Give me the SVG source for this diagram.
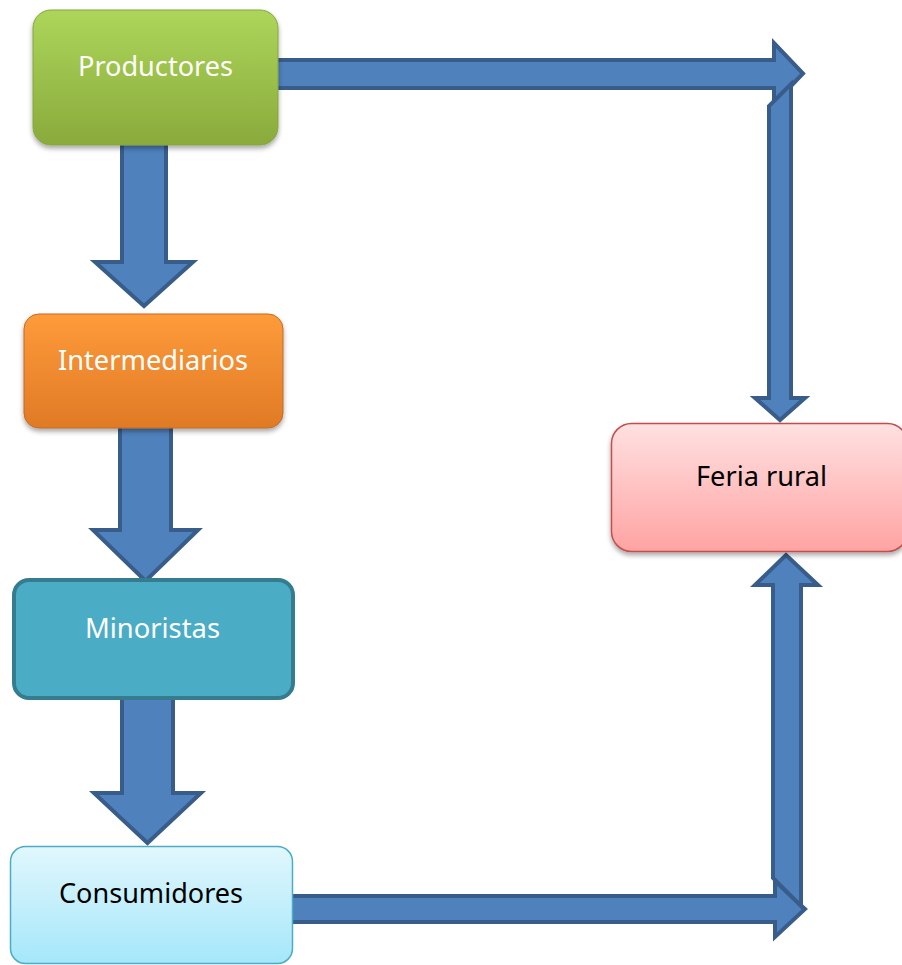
<svg xmlns="http://www.w3.org/2000/svg" width="902" height="965" viewBox="0 0 902 965">
<defs>
<linearGradient id="gGreen" x1="0" y1="0" x2="0" y2="1"><stop offset="0" stop-color="#acd65a"/><stop offset="1" stop-color="#8aaa3c"/></linearGradient>
<linearGradient id="gOrange" x1="0" y1="0" x2="0" y2="1"><stop offset="0" stop-color="#fe9b3a"/><stop offset="1" stop-color="#e07a26"/></linearGradient>
<linearGradient id="gCyan" x1="0" y1="0" x2="0" y2="1"><stop offset="0" stop-color="#e1f7fd"/><stop offset="1" stop-color="#a5e7fa"/></linearGradient>
<linearGradient id="gPink" x1="0" y1="0" x2="0" y2="1"><stop offset="0" stop-color="#ffe1e1"/><stop offset="1" stop-color="#ffa3a3"/></linearGradient>
<filter id="sh" x="-10%" y="-10%" width="125%" height="130%"><feDropShadow dx="0" dy="3" stdDeviation="2.5" flood-color="#000" flood-opacity="0.35"/></filter>
</defs>
<style>
.arr{fill:#4f81bd;stroke:#385d8a;stroke-width:4;stroke-linejoin:miter}
.lbl{font-family:"Noto Sans","Open Sans",sans-serif;font-size:27px;text-anchor:middle}
.w{fill:#ffffff}
.k{fill:#000000}
</style>
<g id="connectors">
<path class="arr" d="M122,140 L122,262 L95,262 L144,306 L193,262 L166,262 L166,140 Z"/>
<path class="arr" d="M120,420 L120,530 L93,530 L145.5,581 L198,530 L171,530 L171,420 Z"/>
<path class="arr" d="M122,695 L122,793 L94,793 L147.5,843 L201,793 L173,793 L173,695 Z"/>
<path class="arr" d="M275,60 L774,60 L774,43 L803,73.5 L774,104 L774,88 L275,88 Z"/>
<path class="arr" d="M769,106 L769,398 L755,398 L780,420 L805,398 L791,398 L791,84 Z"/>
<path class="arr" d="M290,896 L775,896 L775,881 L805,909 L775,937 L775,922 L290,922 Z"/>
<path class="arr" d="M773,878 L773,585 L755,585 L786,555 L818,585 L801,585 L801,906 Z"/>
</g>
<g id="productores">
<rect x="33" y="10" width="245" height="135" rx="18" fill="url(#gGreen)" stroke="#86a540" stroke-width="1" filter="url(#sh)"/>
<text class="lbl w" x="155.5" y="76" textLength="155" lengthAdjust="spacingAndGlyphs">Productores</text>
</g>
<g id="intermediarios">
<rect x="24" y="314" width="259" height="114" rx="15" fill="url(#gOrange)" stroke="#c46a22" stroke-width="1" filter="url(#sh)"/>
<text class="lbl w" x="153" y="370" textLength="190" lengthAdjust="spacingAndGlyphs">Intermediarios</text>
</g>
<g id="minoristas">
<rect x="14" y="580" width="279" height="118" rx="15" fill="#4bacc6" stroke="#357d8e" stroke-width="4"/>
<text class="lbl w" x="152.5" y="638" textLength="135" lengthAdjust="spacingAndGlyphs">Minoristas</text>
</g>
<g id="consumidores">
<rect x="10.5" y="846.5" width="282" height="117" rx="15" fill="url(#gCyan)" stroke="#4bacc6" stroke-width="1.5"/>
<text class="lbl k" x="151" y="903" textLength="184" lengthAdjust="spacingAndGlyphs">Consumidores</text>
</g>
<g id="feria-rural">
<rect x="611.5" y="423.5" width="296" height="128" rx="20" fill="url(#gPink)" stroke="#c0504d" stroke-width="1.5" filter="url(#sh)"/>
<text class="lbl k" x="761.5" y="486" textLength="131" lengthAdjust="spacingAndGlyphs">Feria rural</text>
</g>
</svg>
